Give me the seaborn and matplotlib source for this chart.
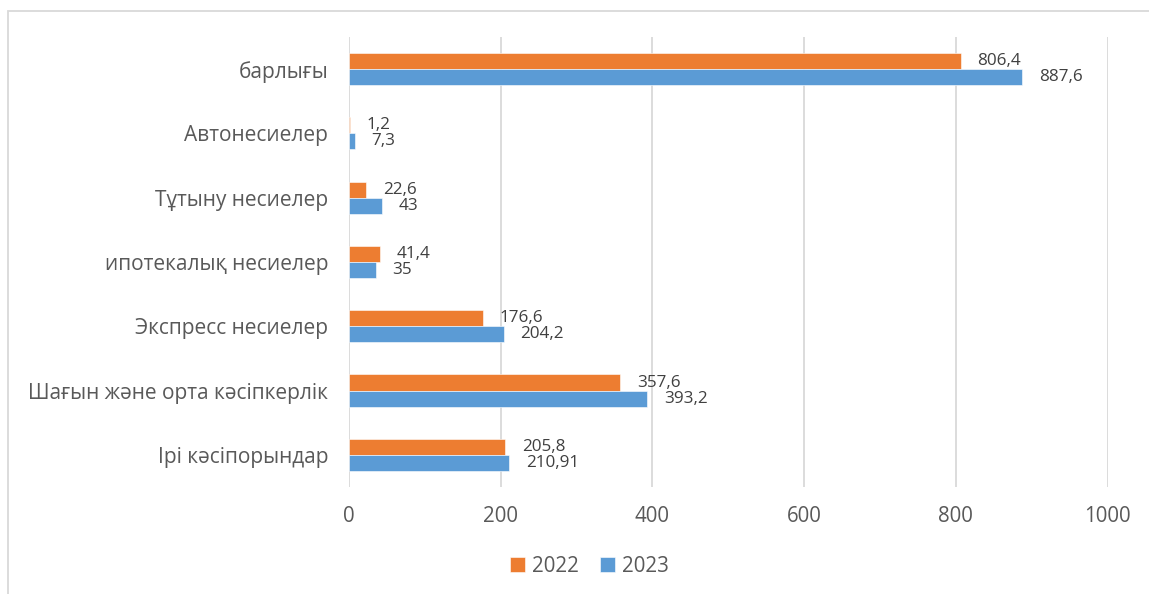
import matplotlib
matplotlib.use("Agg")
import matplotlib.pyplot as plt
import seaborn as sns
import pandas as pd
from matplotlib.patches import Rectangle

categories = ["барлығы", "Автонесиелер", "Тұтыну несиелер", "ипотекалық несиелер",
              "Экспресс несиелер", "Шағын және орта кәсіпкерлік", "Ірі кәсіпорындар"]
values_2022 = [806.4, 1.2, 22.6, 41.4, 176.6, 357.6, 205.8]
values_2023 = [887.6, 7.3, 43, 35, 204.2, 393.2, 210.91]
labels_2022 = ["806,4", "1,2", "22,6", "41,4", "176,6", "357,6", "205,8"]
labels_2023 = ["887,6", "7,3", "43", "35", "204,2", "393,2", "210,91"]
years = ["2022", "2023"]
x_ticks = [0, 200, 400, 600, 800, 1000]

sns.set_theme(style="white")
plt.rcParams['font.family'] = ['Open Sans', 'DejaVu Sans']

df = pd.DataFrame({
    "category": categories * 2,
    "value": values_2022 + values_2023,
    "year": [years[0]] * len(categories) + [years[1]] * len(categories),
})

TEXT = "#595959"
fig = plt.figure(figsize=(11.49, 5.94), dpi=100)
ax = fig.add_axes([349/1149, 1 - 487/594, (1107.6 - 349)/1149, (487 - 37)/594])

sns.barplot(data=df, y="category", x="value", hue="year", order=categories,
            hue_order=years, palette=["#ED7D31", "#5B9BD5"], orient="h",
            width=0.5, ax=ax, saturation=1, edgecolor="white", linewidth=0.4)

for cont, labs in zip(ax.containers, [labels_2022, labels_2023]):
    ax.bar_label(cont, labels=labs, padding=12, fontsize=12.3, color="#404040")

ax.set_xlim(0, 1000)
ax.set_xticks(x_ticks)
ax.set_xticklabels([str(t) for t in x_ticks], fontsize=14.8, color=TEXT)
ax.tick_params(axis="x", length=0, pad=14)
ax.tick_params(axis="y", length=0, pad=15, labelsize=15, labelcolor=TEXT)
ax.set_xlabel("")
ax.set_ylabel("")
ax.grid(axis="x", color="#D9D9D9", linewidth=1.3)
ax.set_axisbelow(True)
for s in ax.spines.values():
    s.set_visible(False)

leg = ax.legend(loc="center", bbox_to_anchor=(0.513, 1 - 566/594),
                bbox_transform=fig.transFigure, ncol=2, frameon=False,
                fontsize=14.8, handlelength=0.75, handleheight=0.75,
                columnspacing=1.0, handletextpad=0.35)
for t in leg.get_texts():
    t.set_color(TEXT)

fig.patches.append(Rectangle((8/1149, -0.01), 1.02, 1 - 11/594 + 0.01,
                             transform=fig.transFigure, fill=False,
                             edgecolor="#D9D9D9", linewidth=1.3))

fig.savefig("out.png", dpi=100)
